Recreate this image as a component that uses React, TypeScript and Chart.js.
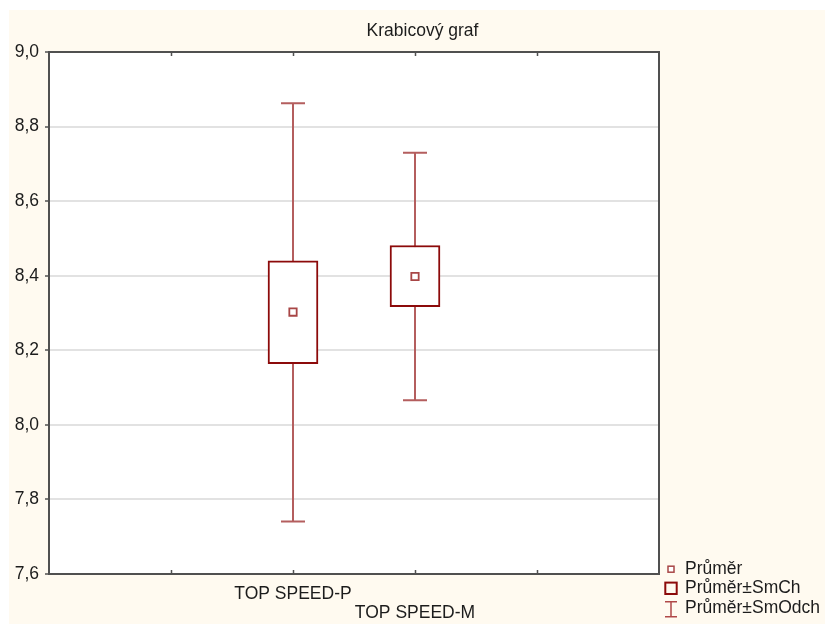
import React, { useEffect, useRef } from 'react';
import { Chart, registerables } from 'chart.js';

Chart.register(...registerables);

// ---- data ----
const title = 'Krabicový graf';
const categories = ['TOP SPEED-P', 'TOP SPEED-M'];
const means = [8.3025, 8.398];
const seLow = [8.164, 8.317];
const seHigh = [8.44, 8.481];
const sdLow = [7.741, 8.066];
const sdHigh = [8.8625, 8.73];
const yTicks = [7.6, 7.8, 8.0, 8.2, 8.4, 8.6, 8.8, 9.0];
const legendLabels = ['Průměr', 'Průměr±SmCh', 'Průměr±SmOdch'];
const EMPTY_SLOTS = 2;

const FONT = "'Liberation Sans', Arial, Helvetica, sans-serif";
const TEXT = '#1c1c1c';
const FRAME = '#505050';
const BOX = '#8c0a0a';
const WHISK = '#b45e5e';
const MEAN = '#a84646';

export default function App() {
  const ref = useRef<HTMLCanvasElement>(null);

  useEffect(() => {
    const canvas = ref.current!;
    const fillN = (v: any) => Array(EMPTY_SLOTS).fill(v);
    const xLabels: (string | string[])[] = [
      ...fillN(''),
      ...categories.map((c, i) => (i % 2 === 1 ? ['', c] : c)),
      ...fillN(''),
    ];
    const pad = (arr: any[]) => [...fillN(null), ...arr, ...fillN(null)];
    const boxData = pad(categories.map((_, i) => [seLow[i], seHigh[i]]));
    const meanData = pad(means);

    const plugin = {
      id: 'statFrame',
      beforeDraw(chart: any) {
        const { ctx, chartArea: a } = chart;
        ctx.save();
        ctx.fillStyle = '#ffffff';
        ctx.fillRect(a.left, a.top, a.right - a.left, a.bottom - a.top);
        ctx.restore();
      },
      beforeDatasetsDraw(chart: any) {
        const { ctx } = chart;
        const xs = chart.scales.x;
        const ys = chart.scales.y;
        ctx.save();
        ctx.strokeStyle = WHISK;
        ctx.lineWidth = 2;
        categories.forEach((_, i) => {
          const x = Math.round(xs.getPixelForValue(EMPTY_SLOTS + i));
          const yt = ys.getPixelForValue(sdHigh[i]);
          const yb = ys.getPixelForValue(sdLow[i]);
          ctx.beginPath();
          ctx.moveTo(x, yt);
          ctx.lineTo(x, yb);
          ctx.moveTo(x - 12, yt);
          ctx.lineTo(x + 12, yt);
          ctx.moveTo(x - 12, yb);
          ctx.lineTo(x + 12, yb);
          ctx.stroke();
        });
        ctx.restore();
      },
      afterDraw(chart: any) {
        const { ctx, chartArea: a } = chart;
        const xs = chart.scales.x;
        ctx.save();
        // frame
        ctx.strokeStyle = FRAME;
        ctx.lineWidth = 2;
        ctx.strokeRect(a.left, a.top, a.right - a.left, a.bottom - a.top);
        // inward x ticks
        ctx.lineWidth = 1.5;
        for (let k = 1; k < xLabels.length - 1; k++) {
          const x = Math.round(xs.getPixelForValue(k)) + 0.5;
          ctx.beginPath();
          ctx.moveTo(x, a.top);
          ctx.lineTo(x, a.top + 4);
          ctx.moveTo(x, a.bottom);
          ctx.lineTo(x, a.bottom - 4);
          ctx.stroke();
        }
        // title
        ctx.fillStyle = TEXT;
        ctx.font = `17.5px ${FONT}`;
        ctx.textAlign = 'center';
        ctx.textBaseline = 'alphabetic';
        ctx.fillText(title, 413.5, 25.7);
        // legend
        const lx = 662;
        const tx = 676;
        const rows = [559.2, 578.3, 599.3];
        const bases = [564.3, 583.2, 602.8];
        ctx.textAlign = 'left';
        legendLabels.forEach((lab, i) => {
          ctx.fillStyle = TEXT;
          ctx.fillText(lab, tx, bases[i]);
        });
        // mean marker
        ctx.fillStyle = '#ffffff';
        ctx.strokeStyle = MEAN;
        ctx.lineWidth = 1.5;
        ctx.fillRect(lx - 3, rows[0] - 3, 6, 6);
        ctx.strokeRect(lx - 3, rows[0] - 3, 6, 6);
        // box marker
        ctx.strokeStyle = BOX;
        ctx.lineWidth = 2;
        ctx.strokeRect(lx - 5.7, rows[1] - 5.7, 11.4, 11.4);
        // whisker marker
        ctx.strokeStyle = '#b04848';
        ctx.lineWidth = 1.5;
        ctx.beginPath();
        ctx.moveTo(lx, rows[2] - 7.5);
        ctx.lineTo(lx, rows[2] + 7.5);
        ctx.moveTo(lx - 6, rows[2] - 7.5);
        ctx.lineTo(lx + 6, rows[2] - 7.5);
        ctx.moveTo(lx - 6, rows[2] + 7.5);
        ctx.lineTo(lx + 6, rows[2] + 7.5);
        ctx.stroke();
        ctx.restore();
      },
    };

    const chart = new Chart(canvas, {
      type: 'bar',
      data: {
        labels: xLabels as any,
        datasets: [
          {
            type: 'line',
            label: legendLabels[0],
            data: meanData,
            showLine: false,
            pointStyle: 'rect',
            pointRadius: 5.2,
            pointBorderWidth: 1.8,
            pointBorderColor: MEAN,
            pointBackgroundColor: '#ffffff',
            order: 0,
          } as any,
          {
            type: 'bar',
            label: legendLabels[1],
            data: boxData as any,
            backgroundColor: '#ffffff',
            borderColor: BOX,
            borderWidth: 2,
            borderSkipped: false,
            barThickness: 50,
            order: 1,
          } as any,
        ],
      },
      options: {
        animation: false,
        responsive: false,
        devicePixelRatio: 1,
        layout: { padding: { top: 42, right: 166, left: 0, bottom: 0 } },
        plugins: {
          legend: { display: false },
          title: { display: false },
          tooltip: { enabled: false },
        },
        scales: {
          x: {
            type: 'category',
            offset: false,
            grid: { display: false, drawTicks: false },
            border: { display: false },
            ticks: {
              autoSkip: false,
              maxRotation: 0,
              minRotation: 0,
              padding: 10,
              color: TEXT,
              font: { family: FONT, size: 17.5, lineHeight: 1.12 },
            },
            afterFit: (s: any) => {
              s.height = 50;
            },
          },
          y: {
            type: 'linear',
            min: yTicks[0],
            max: yTicks[yTicks.length - 1],
            afterBuildTicks: (s: any) => {
              s.ticks = yTicks.map((v) => ({ value: v }));
            },
            afterFit: (s: any) => {
              s.width = 40;
            },
            grid: {
              color: '#e2e2e2',
              lineWidth: 2,
              tickColor: FRAME,
              tickLength: 4,
              tickWidth: 1.5,
            },
            border: { display: false },
            ticks: {
              padding: 6,
              color: TEXT,
              font: { family: FONT, size: 17.5 },
              callback: (v: any) => Number(v).toFixed(1).replace('.', ','),
            },
          },
        },
      },
      plugins: [plugin],
    });

    return () => chart.destroy();
  }, []);

  return (
    <div
      style={{
        position: 'absolute',
        left: 9,
        top: 10,
        width: 816,
        height: 614,
        background: '#fffaf0',
      }}
    >
      <canvas ref={ref} width={816} height={614} style={{ display: 'block' }} />
    </div>
  );
}
